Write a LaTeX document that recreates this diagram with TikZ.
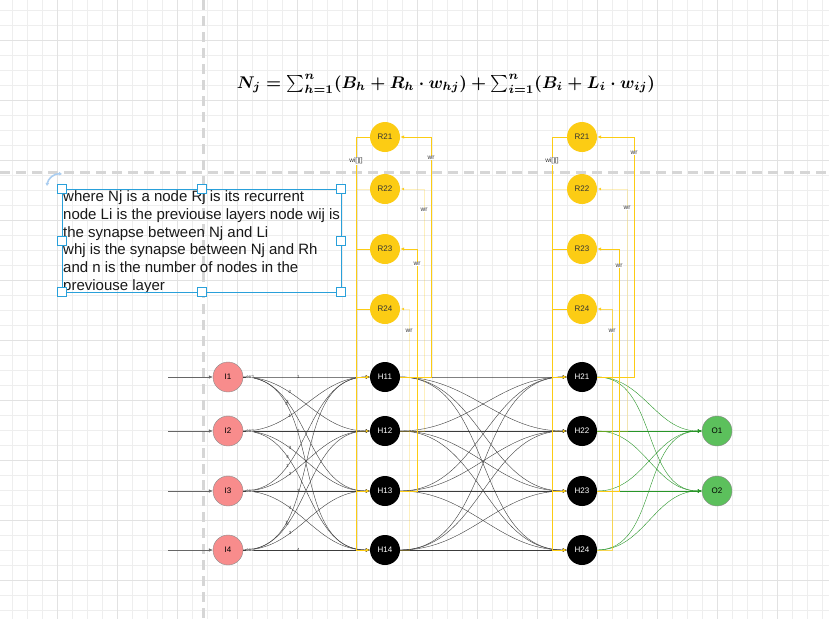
\documentclass[tikz,border=0pt]{standalone}
\usepackage{fontspec}
\setmainfont{Liberation Sans}
\usepackage{graphicx}
\usetikzlibrary{arrows.meta}
\definecolor{pinkc}{RGB}{248,140,140}
\definecolor{yelc}{RGB}{252,204,20}
\definecolor{grnc}{RGB}{92,192,92}
\definecolor{selc}{RGB}{41,160,218}
\definecolor{rotc}{RGB}{170,205,240}
\definecolor{gridc}{RGB}{238,238,238}
\definecolor{gridm}{RGB}{226,226,226}
\definecolor{dashc}{RGB}{214,214,214}
\definecolor{edgec}{RGB}{60,60,60}
\definecolor{gedge}{RGB}{40,150,40}
\begin{document}
\begin{tikzpicture}[x=1pt,y=-1pt,
  nd/.style={circle,minimum size=30pt,inner sep=0pt,font=\fontsize{8}{8}\selectfont},
  inp/.style={nd,fill=pinkc,draw=black!45,line width=0.4pt},
  hid/.style={nd,fill=black,text=white},
  rec/.style={nd,fill=yelc,text=black!80},
  outn/.style={nd,fill=grnc,draw=black!45,line width=0.4pt},
  tip/.style={-{Latex[length=4pt,width=3.5pt]}},
  blk/.style={tip,draw=edgec,line width=0.4pt},
  inar/.style={tip,draw=black!60,line width=0.5pt},
  grn/.style={tip,draw=gedge,line width=0.4pt},
  yel/.style={tip,draw=yelc,line width=0.8pt},
  faint/.style={draw opacity=0.28},
  lbl/.style={font=\fontsize{6.5}{6.5}\selectfont,fill=white,inner sep=0.5pt,text=black!80},
  num/.style={font=\fontsize{4.5}{4.5}\selectfont,inner sep=0pt,text=black!80},
  handle/.style={draw=selc,fill=white,line width=0.7pt,minimum size=9pt,inner sep=0pt}
]
\useasboundingbox (0,0) rectangle (829,619);
\fill[white] (0,0) rectangle (829,619);
% grid
\foreach \i in {0,...,54} \draw[gridc,line width=0.5pt] (12.7+15*\i,0) -- (12.7+15*\i,619);
\foreach \i in {0,...,41} \draw[gridc,line width=0.5pt] (0,10+15*\i) -- (829,10+15*\i);
\foreach \i in {0,...,13} \draw[gridm,line width=0.5pt] (-2.3+60*\i,0) -- (-2.3+60*\i,619);
\foreach \i in {0,...,10} \draw[gridm,line width=0.5pt] (0,40+60*\i) -- (829,40+60*\i);
% dashed guides
\draw[dashc,line width=3pt,dash pattern=on 10pt off 6pt] (203,0) -- (203,619);
\draw[dashc,line width=3pt,dash pattern=on 10pt off 6pt] (0,172) -- (829,172);

% equation
\node (eq) at (446,84) {\resizebox{418pt}{!}{\boldmath$N_j = \sum_{h=1}^{n}(B_h + R_h\cdot w_{hj}) + \sum_{i=1}^{n}(B_i + L_i\cdot w_{ij})$}};

% text box
\node[anchor=north west,inner sep=0pt,align=left,font=\fontsize{15}{17.8}\selectfont,text=black!90] (txt) at (63,190.5)
{where Nj is a node Rj is its recurrent\\
node Li is the previouse layers node wij is\\
the synapse between Nj and Li\\
whj is the synapse between Nj and Rh\\
and n is the number of nodes in the\\
previouse layer};
\draw[selc,line width=0.8pt] (62,189) rectangle (341,292);
\foreach \p [count=\k] in {(62,189),(202,189),(341,189),(62,241),(341,241),(62,292),(202,292),(341,292)}
  \node[handle] (hd\k) at \p {};
\draw[rotc,line width=1.6pt,{Latex[length=3pt,width=4pt]}-{Latex[length=3pt,width=4pt]}] (47,186) to[bend left=45] (62,174);

% nodes
\foreach \k/\y in {1/377,2/431,3/491,4/550} {
  \node[inp] (I\k) at (228,\y) {I\k};
  \node[hid] (H1\k) at (385,\y) {H1\k};
  \node[hid] (H2\k) at (582,\y) {H2\k};
  \coordinate (s\k) at (168,\y);
}
\foreach \k/\y in {1/137,2/189,3/249,4/309} {
  \node[rec] (Ra\k) at (385,\y) {R2\k};
  \node[rec] (Rb\k) at (582,\y) {R2\k};
}
\node[outn] (O1) at (717,431) {O1};
\node[outn] (O2) at (717,491) {O2};

% inputs
\foreach \k in {1,...,4} \draw[inar] (s\k) -- (I\k);

% input -> hidden 1
\foreach \a in {1,...,4} \foreach \b in {1,...,4} {
  \pgfmathtruncatemacro{\d}{abs(\a-\b)}
  \pgfmathsetmacro{\pp}{{0.43,0.35,0.3,0.25}[\d]}
  \draw[blk] (I\a.east) to[out=0,in=180] node[num,pos=\pp] {\b} (H1\b.west);
}
\foreach \k in {1,...,4} \node[num,anchor=west,fill=white,fill opacity=0.6,text opacity=1] (e\k) at ([xshift=3pt]I\k.east) {err1};
% hidden 1 -> hidden 2
\foreach \a in {1,...,4} \foreach \b in {1,...,4}
  \draw[blk] (H1\a.east) to[out=0,in=180] (H2\b.west);
% hidden 2 -> out
\foreach \a in {1,...,4} \foreach \b in {1,2}
  \draw[grn] (H2\a.east) to[out=0,in=180] (O\b.west);

% recurrent, column 1
\coordinate (wa1) at (431,137); \coordinate (wa2) at (424,189);
\coordinate (wa3) at (417,249); \coordinate (wa4) at (409,309);
\draw[yel] (H11.east) -| node[lbl,pos=0.956] {wr} (wa1) -- (Ra1.east);
\draw[yel,faint] (H12.east) -| node[lbl,pos=0.957,text opacity=1] {wr} (wa2) -- (Ra2.east);
\draw[yel] (H13.east) -| node[lbl,pos=0.969] {wr} (wa3) -- (Ra3.east);
\draw[yel,faint] (H14.east) -| node[lbl,pos=0.954] {wr} (wa4) -- (Ra4.east);
\coordinate (va1) at (356,377); \coordinate (va2) at (356,431);
\coordinate (va3) at (356,491); \coordinate (va4) at (356,550);
\draw[yel] (Ra1.west) -| node[lbl,pos=0.55] {wi[][]} (va1) -- (H11.west);
\draw[yel,faint] (Ra2.west) -| (va2) -- (H12.west);
\draw[yel] (Ra3.west) -| (va3) -- (H13.west);
\draw[yel] (Ra4.west) -| (va4) -- (H14.west);

% recurrent, column 2
\coordinate (wb1) at (634,137); \coordinate (wb2) at (627,189);
\coordinate (wb3) at (619,249); \coordinate (wb4) at (612,309);
\draw[yel] (H21.east) -| node[lbl,pos=0.967] {wr} (wb1) -- (Rb1.east);
\draw[yel,faint] (H22.east) -| node[lbl,pos=0.961] {wr} (wb2) -- (Rb2.east);
\draw[yel] (H23.east) -| node[lbl,pos=0.965] {wr} (wb3) -- (Rb3.east);
\draw[yel,draw opacity=0.7] (H24.east) -| node[lbl,pos=0.954] {wr} (wb4) -- (Rb4.east);
\coordinate (vb1) at (552,377); \coordinate (vb2) at (552,431);
\coordinate (vb3) at (552,491); \coordinate (vb4) at (552,550);
\draw[yel] (Rb1.west) -| node[lbl,pos=0.55] {wi[][]} (vb1) -- (H21.west);
\draw[yel,faint] (Rb2.west) -| (vb2) -- (H22.west);
\draw[yel] (Rb3.west) -| (vb3) -- (H23.west);
\draw[yel] (Rb4.west) -| (vb4) -- (H24.west);
\end{tikzpicture}
\end{document}
